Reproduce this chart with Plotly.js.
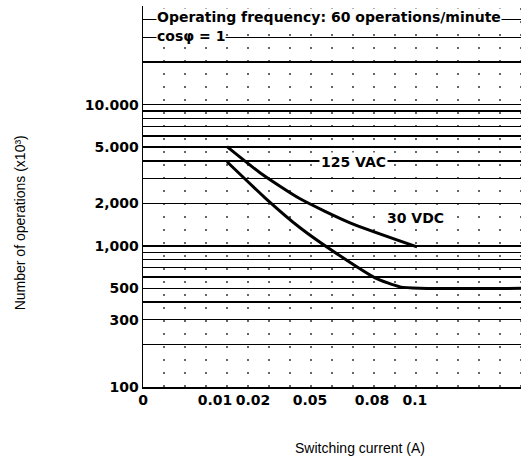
<!DOCTYPE html>
<html>
<head>
<meta charset="utf-8">
<script src="https://cdn.plot.ly/plotly-3.0.1.min.js"></script>
<style>html,body{margin:0;padding:0;background:#fff;}#chart{width:527px;height:463px;}</style>
</head>
<body>
<div id="chart"></div>
<script>
// Curves (x in chart grid units along the switching-current axis, y = number of operations x10^3)
const vacX = [4.0, 5.57, 7.48, 9.86, 13.05];
const vacY = [5040, 3295, 2154, 1456, 984];
const vdcX = [4.0, 5.81, 7.48, 9.38, 11.05, 12.24, 13.19, 18];
const vdcY = [3940, 2190, 1342, 849, 593, 512, 500, 500];

// Axis ticks
const xTickText = ['0', '0.01', '0.02', '0.05', '0.08', '0.1'];
const xTickVals = [0, 3.43, 5.24, 7.95, 10.9, 12.95];
const yGridVals = [100,200,300,400,500,600,700,800,900,
                   1000,2000,3000,4000,5000,6000,7000,8000,9000,
                   10000,20000,30000,40000,50000];
const yLabelMap = {100:'100', 300:'300', 500:'500', 1000:'1,000', 2000:'2,000', 5000:'5.000', 10000:'10.000'};
const xGridVals = [1,2,3,4,5,6,7,8,9,10,11,12,13,14,15,16,17,18];

const curveLine = {color: '#000', width: 3, shape: 'spline', smoothing: 0.6};

const traces = [
  {x: vacX, y: vacY, type: 'scatter', mode: 'lines', name: '125 VAC', line: curveLine, hoverinfo: 'skip'},
  {x: vdcX, y: vdcY, type: 'scatter', mode: 'lines', name: '30 VDC', line: curveLine, hoverinfo: 'skip'}
];

const shapes = xGridVals.map(v => ({
  type: 'line', xref: 'x', yref: 'paper', x0: v, x1: v, y0: 0, y1: 1,
  line: {color: '#000', width: 1.2, dash: '2px,11px'}, layer: 'below'
}));

const tickFont = {family: 'DejaVu Sans, sans-serif', size: 14, color: '#000', weight: 'bold'};
const noteFont = {family: 'DejaVu Sans, sans-serif', size: 14, color: '#000', weight: 'bold'};
const titleFont = {family: 'Liberation Sans, Arial, sans-serif', size: 14, color: '#000'};

const layout = {
  width: 527, height: 463,
  margin: {l: 143, r: 6, t: 6, b: 76},
  paper_bgcolor: '#fff', plot_bgcolor: '#fff',
  showlegend: false,
  xaxis: {
    range: [0, 18], showgrid: false, zeroline: false,
    tickmode: 'array', tickvals: xTickVals, ticktext: xTickText,
    ticks: '', showline: true, linecolor: '#000', linewidth: 1.5,
    tickfont: tickFont
  },
  yaxis: {
    type: 'log', range: [2, Math.log10(50000)],
    tickmode: 'array', tickvals: yGridVals,
    ticktext: yGridVals.map(v => yLabelMap[v] || ''),
    showgrid: true, gridcolor: '#000', gridwidth: 1.5,
    zeroline: false, ticks: '', showline: true, linecolor: '#000', linewidth: 1.5,
    tickfont: tickFont
  },
  shapes: shapes,
  annotations: [
    {text: 'Operating frequency: 60 operations/minute', xref: 'paper', yref: 'paper',
     x: 0.034, y: 0.971, xanchor: 'left', yanchor: 'middle', showarrow: false,
     bgcolor: '#fff', font: noteFont, borderpad: 0},
    {text: 'cosφ = 1', xref: 'paper', yref: 'paper',
     x: 0.034, y: 0.921, xanchor: 'left', yanchor: 'middle', showarrow: false,
     bgcolor: '#fff', font: noteFont, borderpad: 0},
    {text: '125 VAC', xref: 'paper', yref: 'paper',
     x: 0.556, y: 0.591, xanchor: 'center', yanchor: 'middle', showarrow: false,
     bgcolor: '#fff', font: noteFont, borderpad: 1},
    {text: '30 VDC', xref: 'paper', yref: 'paper',
     x: 0.72, y: 0.4436, xanchor: 'center', yanchor: 'middle', showarrow: false,
     bgcolor: '#fff', font: noteFont, borderpad: 1},
    {text: 'Switching current (A)', xref: 'paper', yref: 'paper',
     x: 0.575, y: -0.16, xanchor: 'center', yanchor: 'middle', showarrow: false,
     font: titleFont},
    {text: 'Number of operations (x10³)', xref: 'paper', yref: 'paper',
     x: -0.325, y: 0.43, xanchor: 'center', yanchor: 'middle', showarrow: false, textangle: -90,
     font: titleFont}
  ]
};

Plotly.newPlot('chart', traces, layout, {displayModeBar: false, staticPlot: true});
</script>
</body>
</html>
